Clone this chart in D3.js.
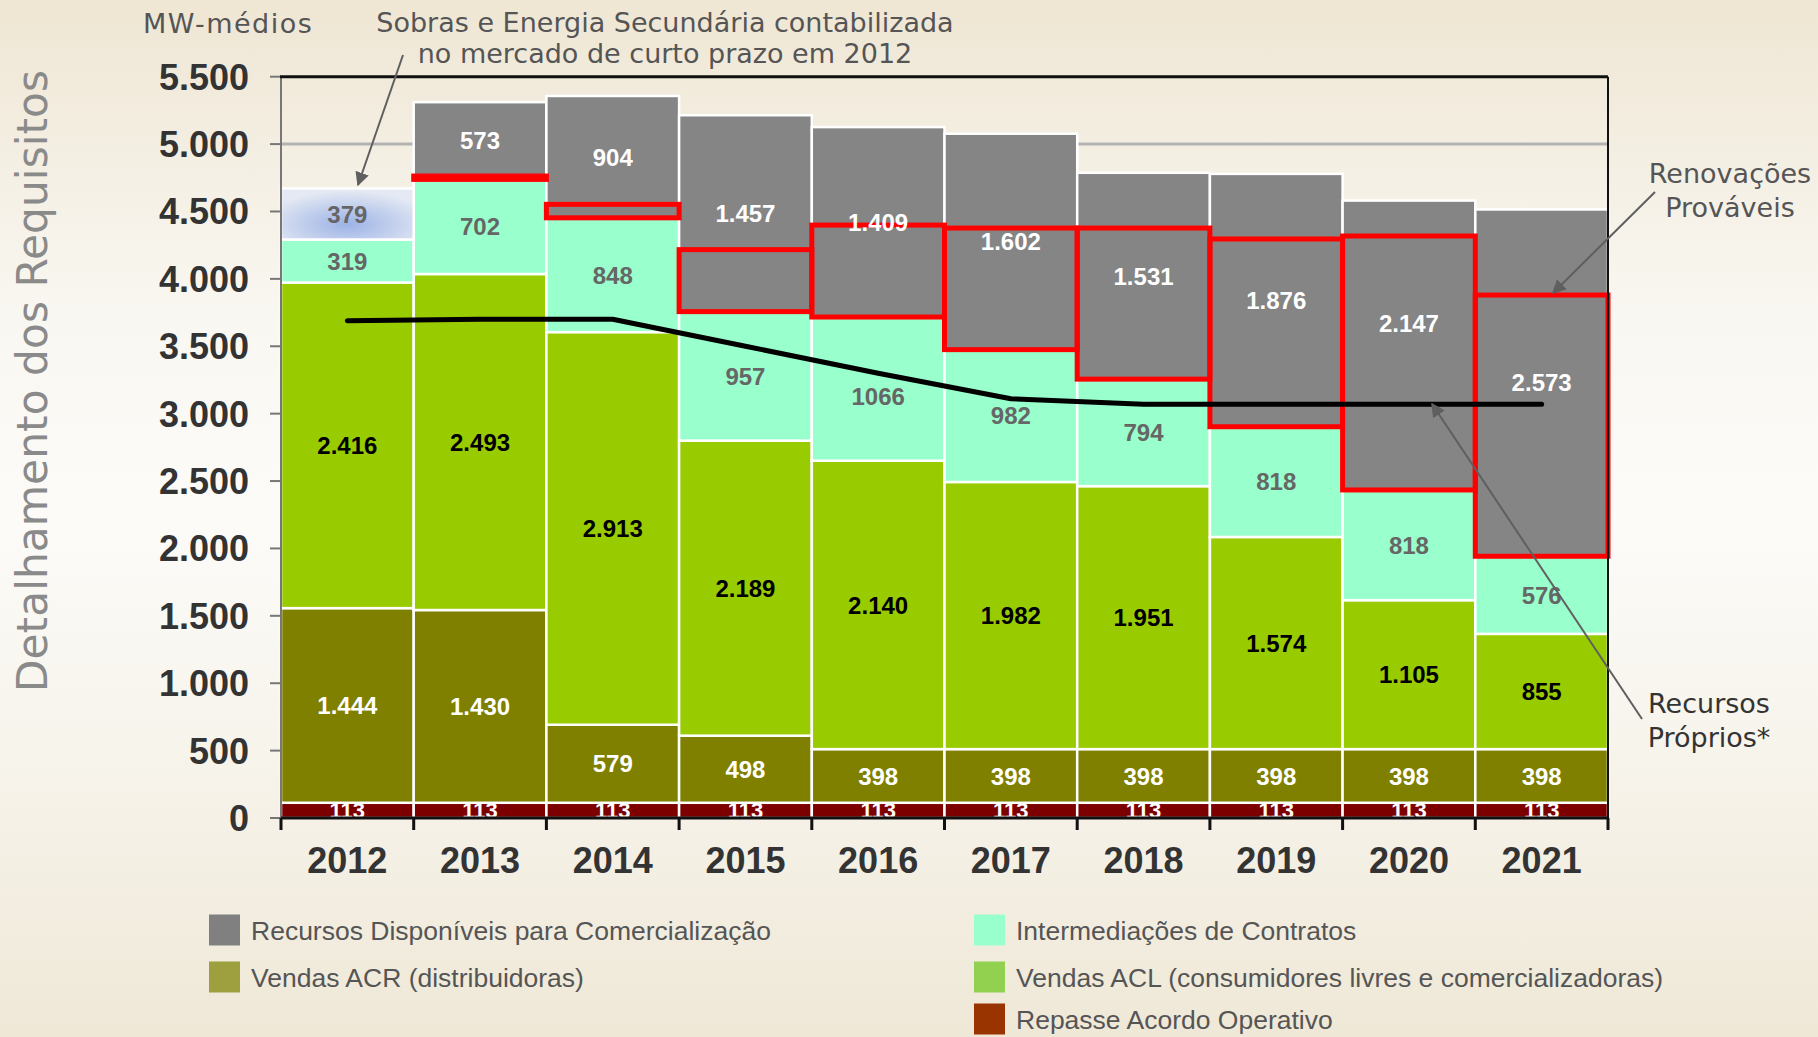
<!DOCTYPE html>
<html>
<head>
<meta charset="utf-8">
<script src="https://cdn.jsdelivr.net/npm/d3@7"></script>
<style>
  html, body { margin: 0; padding: 0; }
  body { width: 1818px; height: 1037px; overflow: hidden; }
</style>
</head>
<body>
<svg id="chart" width="1818" height="1037"></svg>
<script>
// ---------------- DATA ----------------
const years = ["2012","2013","2014","2015","2016","2017","2018","2019","2020","2021"];
const repasseAcordo = [113,113,113,113,113,113,113,113,113,113];
const vendasACR = [1444,1430,579,498,398,398,398,398,398,398];
const vendasACL = [2416,2493,2913,2189,2140,1982,1951,1574,1105,855];
const intermediacoes = [319,702,848,957,1066,982,794,818,818,576];
const sobrasSecundaria = [379,0,0,0,0,0,0,0,0,0];
const recursosDisponiveis = [0,573,904,1457,1409,1602,1531,1876,2147,2573];
const renovacoesProvaveis = [0,25,100,460,682,902,1121,1393,1884,1938];
const recursosProprios = [3690,3700,3700,3500,3300,3110,3070,3070,3070,3070];
const yTicks = [0,500,1000,1500,2000,2500,3000,3500,4000,4500,5000,5500];
const legendNames = ["Recursos Disponíveis para Comercialização","Intermediações de Contratos",
  "Vendas ACR (distribuidoras)","Vendas ACL (consumidores livres e comercializadoras)","Repasse Acordo Operativo"];
const legendColors = ["#808080","#99ffcc","#9ea040","#92d050","#993300"];

// ---------------- SETUP ----------------
const svg = d3.select("#chart");
const W = 1818, H = 1037;
const plot = {left: 281, right: 1608, top: 76.7, bottom: 818};
// small manual label offsets (px) as placed in the original slide
const labelNudge = {"disp-2020": -22, "interm-2016": 8};

const loc = d3.formatLocale({decimal: ",", thousands: ".", grouping: [3], currency: ["R$", ""]});
const fmt = loc.format(",d");
const fmtPlain = d3.format("d");

const x = d3.scaleBand().domain(years).range([plot.left, plot.right]).padding(0);
const y = d3.scaleLinear().domain([0, 5500]).range([plot.bottom, plot.top]);

const defs = svg.append("defs");
const bg = defs.append("linearGradient").attr("id","bg").attr("x1",0).attr("y1",0).attr("x2",0).attr("y2",1);
[[0,"#efe6d3"],[0.12,"#f3ede0"],[0.3,"#f9f7f1"],[0.5,"#fcfbf8"],[0.72,"#f7f4ec"],[1,"#efe8d7"]]
  .forEach(([o,c]) => bg.append("stop").attr("offset",o).attr("stop-color",c));
const sob = defs.append("radialGradient").attr("id","sobras").attr("cx","50%").attr("cy","70%").attr("r","65%");
[[0,"#9db3e6"],[0.55,"#c3d0ed"],[1,"#e4e9f3"]].forEach(([o,c]) => sob.append("stop").attr("offset",o).attr("stop-color",c));
const mk = defs.append("marker").attr("id","arrow").attr("viewBox","0 0 10 10").attr("refX",9).attr("refY",5)
  .attr("markerWidth",7).attr("markerHeight",7).attr("markerUnits","strokeWidth").attr("orient","auto");
mk.append("path").attr("d","M0,0 L10,5 L0,10 z").attr("fill","#5f5f5f");

svg.append("rect").attr("width",W).attr("height",H).attr("fill","url(#bg)");

// gridlines
svg.append("g").selectAll("line").data(yTicks.filter(t => t > 0 && t < 5500)).join("line")
  .attr("x1", plot.left).attr("x2", plot.right).attr("y1", d => y(d)).attr("y2", d => y(d))
  .attr("stroke", "#b3b3b3").attr("stroke-width", 3);

// ---------------- STACKED BARS ----------------
const series = [
  {key:"repasse", vals: repasseAcordo, fill:"#7d0000", text:"#ffffff"},
  {key:"acr", vals: vendasACR, fill:"#808000", text:"#ffffff"},
  {key:"acl", vals: vendasACL, fill:"#99cc00", text:"#000000"},
  {key:"interm", vals: intermediacoes, fill:"#99ffcc", text:"#666666", plain:true},
  {key:"sobras", vals: sobrasSecundaria, fill:"url(#sobras)", text:"#666666"},
  {key:"disp", vals: recursosDisponiveis, fill:"#858585", text:"#ffffff"}
];
const rows = years.map((yr, i) => {
  const o = {year: yr};
  series.forEach(s => o[s.key] = s.vals[i]);
  return o;
});
const stack = d3.stack().keys(series.map(s => s.key));
const stacked = stack(rows);

const gBars = svg.append("g");
stacked.forEach((layer, li) => {
  const s = series[li];
  gBars.append("g").selectAll("rect").data(layer.filter(d => d[1] - d[0] > 0)).join("rect")
    .attr("x", d => x(d.data.year))
    .attr("width", x.bandwidth())
    .attr("y", d => y(d[1]))
    .attr("height", d => y(d[0]) - y(d[1]))
    .attr("fill", s.fill)
    .attr("stroke", "#ffffff").attr("stroke-width", 2.5);
});

// red boxes - renovações prováveis
const interTop = years.map((yr, i) => repasseAcordo[i] + vendasACR[i] + vendasACL[i] + intermediacoes[i]);
svg.append("g").selectAll("rect").data(years.map((yr,i) => ({year: yr, base: interTop[i], v: renovacoesProvaveis[i]})).filter(d => d.v > 0))
  .join("rect")
  .attr("x", d => x(d.year)).attr("width", x.bandwidth())
  .attr("y", d => y(d.base + d.v)).attr("height", d => y(d.base) - y(d.base + d.v))
  .attr("fill", "none").attr("stroke", "#ff0000").attr("stroke-width", 5);

// recursos próprios line
const line = d3.line().x((d, i) => x(years[i]) + x.bandwidth() / 2).y(d => y(d));
svg.append("path").datum(recursosProprios).attr("d", line)
  .attr("fill", "none").attr("stroke", "#000").attr("stroke-width", 5)
  .attr("stroke-linecap", "round").attr("stroke-linejoin", "round");

// bar labels
const gLab = svg.append("g").attr("font-family", "'Liberation Sans', Arial, sans-serif").attr("font-weight", "bold");
stacked.forEach((layer, li) => {
  const s = series[li];
  gLab.append("g").selectAll("text").data(layer.filter(d => d[1] - d[0] > 0)).join("text")
    .attr("x", d => x(d.data.year) + x.bandwidth() / 2)
    .attr("y", d => (y(d[0]) + y(d[1])) / 2 + (labelNudge[s.key + "-" + d.data.year] || 0))
    .attr("dy", "0.36em")
    .attr("text-anchor", "middle")
    .attr("font-size", s.key === "repasse" ? 22 : 24)
    .attr("fill", s.text)
    .text(d => s.plain ? fmtPlain(d[1] - d[0]) : fmt(d[1] - d[0]));
});

// ---------------- AXES ----------------
// left axis
svg.append("line").attr("x1", plot.left).attr("x2", plot.left).attr("y1", plot.top).attr("y2", plot.bottom)
  .attr("stroke", "#777").attr("stroke-width", 2);
svg.append("g").selectAll("line").data(yTicks).join("line")
  .attr("x1", plot.left - 11).attr("x2", plot.left).attr("y1", d => y(d)).attr("y2", d => y(d))
  .attr("stroke", "#777").attr("stroke-width", 2);
svg.append("g").selectAll("text").data(yTicks).join("text")
  .attr("x", 249).attr("y", d => y(d)).attr("dy", "0.36em").attr("text-anchor", "end")
  .attr("font-family", "'Liberation Sans', Arial, sans-serif").attr("font-weight", "bold")
  .attr("font-size", 36).attr("fill", "#333").text(d => fmt(d));
// top and right border
svg.append("line").attr("x1", plot.left - 1).attr("x2", plot.right).attr("y1", plot.top).attr("y2", plot.top)
  .attr("stroke", "#111").attr("stroke-width", 3);
svg.append("line").attr("x1", plot.right).attr("x2", plot.right).attr("y1", plot.top).attr("y2", plot.bottom)
  .attr("stroke", "#111").attr("stroke-width", 2);
// bottom axis
svg.append("line").attr("x1", plot.left).attr("x2", plot.right + 1).attr("y1", plot.bottom).attr("y2", plot.bottom)
  .attr("stroke", "#111").attr("stroke-width", 3);
const edges = years.map(yr => x(yr)).concat([plot.right]);
svg.append("g").selectAll("line").data(edges).join("line")
  .attr("x1", d => d).attr("x2", d => d).attr("y1", plot.bottom).attr("y2", plot.bottom + 12)
  .attr("stroke", "#111").attr("stroke-width", 3);
svg.append("g").selectAll("text").data(years).join("text")
  .attr("x", d => x(d) + x.bandwidth() / 2).attr("y", 873).attr("text-anchor", "middle")
  .attr("font-family", "'Liberation Sans', Arial, sans-serif").attr("font-weight", "bold")
  .attr("font-size", 36).attr("fill", "#333").text(d => d);

// y title
svg.append("text").attr("transform", "translate(47,381) rotate(-90)").attr("text-anchor", "middle")
  .attr("font-family", "'DejaVu Sans', Verdana, sans-serif").attr("font-size", 42.4).attr("fill", "#8a8a8a")
  .text("Detalhamento dos Requisitos");

// ---------------- ANNOTATIONS ----------------
const ann = svg.append("g").attr("font-family", "'DejaVu Sans', Verdana, sans-serif").attr("font-size", 27);
ann.append("text").attr("x", 143).attr("y", 33).attr("fill", "#555").attr("letter-spacing", 1.5).text("MW-médios");
ann.append("text").attr("x", 665).attr("y", 32).attr("text-anchor", "middle").attr("fill", "#555")
  .text("Sobras e Energia Secundária contabilizada");
ann.append("text").attr("x", 665).attr("y", 63).attr("text-anchor", "middle").attr("fill", "#555")
  .text("no mercado de curto prazo em 2012");
ann.append("text").attr("x", 1730).attr("y", 183).attr("text-anchor", "middle").attr("fill", "#555").text("Renovações");
ann.append("text").attr("x", 1730).attr("y", 217).attr("text-anchor", "middle").attr("fill", "#555").text("Prováveis");
ann.append("text").attr("x", 1709).attr("y", 713).attr("text-anchor", "middle").attr("fill", "#333").text("Recursos");
ann.append("text").attr("x", 1709).attr("y", 747).attr("text-anchor", "middle").attr("fill", "#333").text("Próprios*");

const arrows = [
  [[403, 55], [358, 185]],
  [[1655, 192], [1553, 293]],
  [[1642, 719], [1432, 404]]
];
svg.append("g").selectAll("line").data(arrows).join("line")
  .attr("x1", d => d[0][0]).attr("y1", d => d[0][1]).attr("x2", d => d[1][0]).attr("y2", d => d[1][1])
  .attr("stroke", "#5f5f5f").attr("stroke-width", 2).attr("marker-end", "url(#arrow)");

// ---------------- LEGEND ----------------
const legPos = [[209, 930], [974, 930], [209, 977], [974, 977], [974, 1019]];
const gLeg = svg.append("g");
legendNames.forEach((name, i) => {
  const [lx, ly] = legPos[i];
  gLeg.append("rect").attr("x", lx).attr("y", ly - 15.5).attr("width", 31).attr("height", 31).attr("fill", legendColors[i]);
  gLeg.append("text").attr("x", lx + 42).attr("y", ly).attr("dy", "0.36em")
    .attr("font-family", "'Liberation Sans', Arial, sans-serif").attr("font-size", 26.5).attr("fill", "#555")
    .text(name);
});
</script>
</body>
</html>
